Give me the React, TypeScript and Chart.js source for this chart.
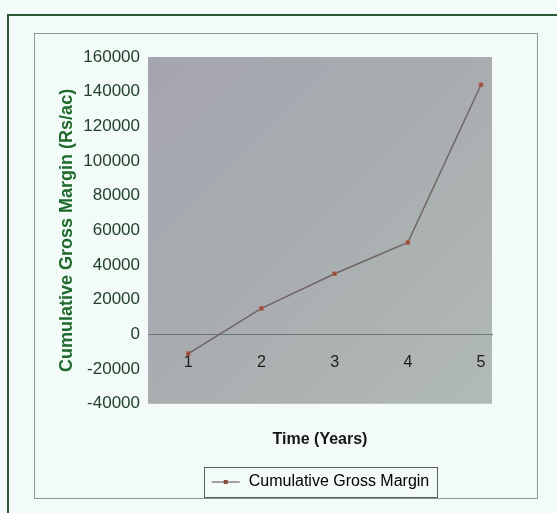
import React, { useEffect, useRef } from "react";
import { Chart, registerables } from "chart.js";

Chart.register(...registerables);

const years = [1, 2, 3, 4, 5];
const grossMargin = [-11000, 15000, 35000, 53000, 144000];
const yMin = -40000;
const yMax = 160000;
const yStep = 20000;
const seriesName = "Cumulative Gross Margin";
const xTitle = "Time (Years)";
const yTitle = "Cumulative Gross Margin (Rs/ac)";

const FONT = "Arial, 'Liberation Sans', sans-serif";

function makeLegendIcon(): HTMLCanvasElement {
  const c = document.createElement("canvas");
  c.width = 30;
  c.height = 10;
  const ctx = c.getContext("2d")!;
  ctx.strokeStyle = "#6f6468";
  ctx.lineWidth = 1.2;
  ctx.beginPath();
  ctx.moveTo(1, 5);
  ctx.lineTo(29, 5);
  ctx.stroke();
  ctx.fillStyle = "#8b4a3c";
  ctx.fillRect(13, 3, 4, 4);
  return c;
}

const bgPlugin = {
  id: "plotBg",
  beforeDraw(chart: any) {
    const { ctx, chartArea } = chart;
    if (!chartArea) return;
    const g = ctx.createLinearGradient(chartArea.left, chartArea.top, chartArea.right, chartArea.bottom);
    g.addColorStop(0, "#a5a5b0");
    g.addColorStop(0.5, "#a9adb0");
    g.addColorStop(1, "#b1bab5");
    ctx.save();
    ctx.fillStyle = g;
    ctx.fillRect(chartArea.left, chartArea.top, chartArea.right - chartArea.left, chartArea.bottom - chartArea.top);
    ctx.restore();
  },
};

const legendBoxPlugin = {
  id: "legendBox",
  afterDraw(chart: any) {
    const boxes = chart.legend && chart.legend.legendHitBoxes;
    if (!boxes || !boxes.length) return;
    const b = boxes[0];
    const { ctx } = chart;
    ctx.save();
    ctx.strokeStyle = "#5a5f5e";
    ctx.lineWidth = 1;
    ctx.strokeRect(Math.round(b.left - 7) + 0.5, Math.round(b.top - 7) + 0.5, Math.round(b.width + 14), Math.round(b.height + 14));
    ctx.restore();
  },
};

export default function App() {
  const ref = useRef<HTMLCanvasElement | null>(null);

  useEffect(() => {
    if (!ref.current) return;
    const icon = makeLegendIcon();
    const chart = new Chart(ref.current, {
      type: "line",
      data: {
        datasets: [
          {
            label: seriesName,
            data: years.map((x, i) => ({ x, y: grossMargin[i] })),
            borderColor: "#6f6468",
            borderWidth: 1.5,
            pointStyle: "rect",
            pointRadius: 2.5,
            pointBackgroundColor: "#8b4a3c",
            pointBorderColor: "#b0604a",
            pointBorderWidth: 1,
            tension: 0,
          },
        ],
      },
      options: {
        animation: false,
        responsive: false,
        layout: { padding: { left: 52, right: 65, top: 57, bottom: 13 } },
        font: { family: FONT },
        scales: {
          x: {
            type: "linear",
            position: { y: 0 } as any,
            min: 0.45,
            max: 5.15,
            afterBuildTicks: (scale: any) => {
              scale.ticks = years.map((v) => ({ value: v }));
            },
            ticks: {
              color: "#1c1c1c",
              font: { family: FONT, size: 16 },
              padding: 19,
              autoSkip: false,
              maxRotation: 0,
              callback: (v: any) => String(v),
            },
            grid: { display: false, drawTicks: false },
            border: { display: true, color: "#6e7675", width: 1 },
          },
          y: {
            type: "linear",
            min: yMin,
            max: yMax,
            afterFit: (scale: any) => {
              scale.width = 96;
            },
            ticks: {
              stepSize: yStep,
              color: "#22402b",
              font: { family: FONT, size: 17 },
              padding: 8,
              callback: (v: any) => String(v),
            },
            grid: { display: false, drawTicks: false },
            border: { display: false },
            title: {
              display: true,
              text: yTitle,
              color: "#1f6a2c",
              font: { family: FONT, size: 18, weight: "bold" },
              padding: { top: 4, bottom: 4 },
            },
          },
        },
        plugins: {
          title: {
            display: true,
            text: xTitle,
            position: "bottom",
            fullSize: false,
            weight: 100,
            color: "#151515",
            font: { family: FONT, size: 16, weight: "bold" },
            padding: { top: 26, bottom: 15 },
          } as any,
          legend: {
            display: true,
            position: "bottom",
            fullSize: false,
            labels: {
              usePointStyle: true,
              pointStyleWidth: 30,
              color: "#2a2a2a",
              font: { family: FONT, size: 16 },
              padding: 10,
              generateLabels: () => [
                {
                  text: seriesName,
                  pointStyle: icon as any,
                  fillStyle: "#8b4a3c",
                  strokeStyle: "#6f6468",
                  lineWidth: 0,
                  hidden: false,
                  datasetIndex: 0,
                } as any,
              ],
            },
          },
          tooltip: { enabled: false },
        },
      },
      plugins: [bgPlugin, legendBoxPlugin],
    });
    return () => chart.destroy();
  }, []);

  return (
    <div
      style={{
        position: "fixed",
        left: 0,
        top: 0,
        width: 557,
        height: 513,
        background: "#f3fbf8",
        overflow: "hidden",
      }}
    >
      <div
        style={{
          position: "absolute",
          left: 7,
          top: 14,
          width: 600,
          height: 600,
          borderTop: "2px solid #2c5636",
          borderLeft: "2px solid #2c5636",
        }}
      />
      <div
        style={{
          position: "absolute",
          left: 34,
          top: 33,
          width: 502,
          height: 464,
          border: "1px solid #8d9896",
        }}
      />
      <canvas
        ref={ref}
        width={557}
        height={513}
        style={{ position: "absolute", left: 0, top: 0, width: 557, height: 513 }}
      />
    </div>
  );
}
